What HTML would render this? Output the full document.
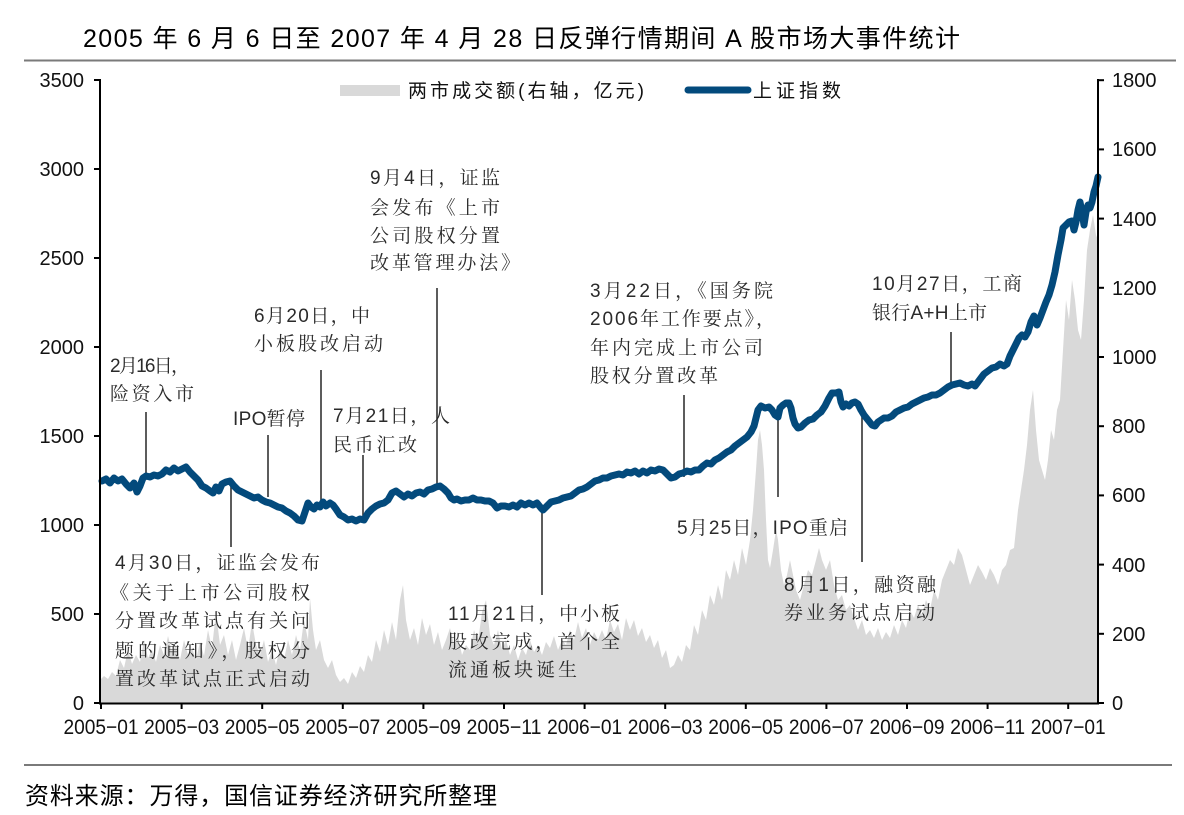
<!DOCTYPE html>
<html>
<head>
<meta charset="utf-8">
<style>
  html,body{margin:0;padding:0;background:#fff;}
  svg{display:block;}
  .ax{font-family:"Liberation Sans","Noto Sans CJK SC",sans-serif;font-size:20px;fill:#111;}
  .xl{font-family:"Liberation Sans","Noto Sans CJK SC",sans-serif;font-size:21px;fill:#111;}
  .an{font-family:"Liberation Sans","Noto Serif CJK SC",serif;font-size:19px;fill:#2a2a2a;}
  .lg{font-family:"Liberation Sans","Noto Sans CJK SC",sans-serif;font-size:19px;fill:#111;}
</style>
</head>
<body>
<svg width="1184" height="815" viewBox="0 0 1184 815" xmlns="http://www.w3.org/2000/svg">
  <rect width="1184" height="815" fill="#fff"/>
  <!-- Title -->
  <text x="83" y="47" font-family="'Liberation Sans','Noto Sans CJK SC',sans-serif" font-size="25" fill="#000" textLength="877" lengthAdjust="spacing">2005 年 6 月 6 日至 2007 年 4 月 28 日反弹行情期间 A 股市场大事件统计</text>
  <line x1="24" y1="60.5" x2="1176" y2="60.5" stroke="#7a7a7a" stroke-width="2"/>

  <!-- Volume area -->
  <polygon fill="#d9d9d9" points="100,703 100,680 104,676 108,679 112,672 116,676 120,660 124,668 128,650 132,664 136,655 140,662 144,640 148,658 152,650 156,662 160,645 164,655 168,636 172,652 176,645 180,660 184,640 188,655 192,648 196,660 200,642 204,656 208,630 212,648 216,612 220,645 224,635 228,655 232,640 236,660 240,645 244,628 248,650 252,622 256,645 260,655 264,640 268,662 272,650 276,665 280,648 284,660 288,640 292,655 296,635 300,650 304,620 308,640 310,598 313,630 316,650 320,640 324,660 328,668 332,660 336,675 340,682 344,678 348,684 352,672 356,678 360,666 364,672 368,655 372,662 376,640 380,652 384,630 388,645 392,622 396,640 400,600 403,585 406,620 410,640 414,628 418,645 422,618 426,635 430,624 434,645 438,632 442,650 446,640 450,628 454,645 458,636 462,655 466,645 470,650 474,630 478,642 482,612 486,600 490,635 494,645 498,630 502,650 506,640 510,655 514,645 518,660 522,648 526,655 530,640 534,652 538,645 542,655 546,642 550,648 554,636 558,650 562,640 566,645 570,630 574,640 578,622 582,638 586,628 590,645 594,632 598,640 602,630 606,640 610,620 614,632 618,624 622,640 626,618 630,630 634,620 638,636 642,628 646,642 650,635 654,648 658,640 662,658 666,650 670,668 674,665 678,655 682,662 686,645 690,650 694,625 698,635 702,610 706,620 710,595 714,605 718,585 722,600 726,570 730,580 734,560 738,575 742,548 746,565 750,540 753,510 756,470 758,440 760,430 762,445 764,470 766,520 768,560 770,568 773,550 776,530 778,540 781,570 784,585 787,575 790,560 793,575 796,590 800,600 804,585 808,570 812,575 816,560 819,548 822,560 826,570 830,560 834,585 838,600 842,595 846,610 850,605 854,618 858,630 862,620 866,635 870,630 874,638 878,628 882,640 886,632 890,638 894,625 898,635 902,620 906,628 910,610 914,618 918,605 922,615 926,600 930,610 934,590 938,600 942,580 946,570 950,560 954,565 958,548 962,555 966,570 970,585 974,575 978,565 982,572 986,580 990,568 994,575 998,585 1002,570 1006,565 1010,550 1014,548 1018,510 1021,490 1024,470 1027,445 1030,410 1033,390 1036,430 1039,460 1042,470 1045,480 1048,460 1051,430 1054,440 1057,410 1060,400 1063,350 1066,300 1069,320 1072,280 1075,300 1078,330 1081,340 1084,300 1087,250 1090,230 1093,215 1096,235 1098,240 1098,703"/>

  <!-- Leader lines -->
  <g stroke="#333" stroke-width="1.6">
    <line x1="146" y1="412" x2="146" y2="477"/>
    <line x1="268" y1="435" x2="268" y2="497"/>
    <line x1="321" y1="370" x2="321" y2="502"/>
    <line x1="363" y1="455" x2="363" y2="520"/>
    <line x1="437" y1="288" x2="437" y2="487"/>
    <line x1="231" y1="482" x2="231" y2="547"/>
    <line x1="542" y1="510" x2="542" y2="595"/>
    <line x1="684" y1="395" x2="684" y2="477"/>
    <line x1="778" y1="413" x2="778" y2="497"/>
    <line x1="862" y1="417" x2="862" y2="562"/>
    <line x1="951" y1="332" x2="951" y2="388"/>
  </g>

  <!-- Index line -->
  <polyline fill="none" stroke="#034a7c" stroke-width="7" stroke-linejoin="round" stroke-linecap="round" points="102,481 106,479 110,483 114,478 118,481 122,479 126,484 130,488 134,483 137,492 140,486 143,478 146,476 150,477 154,475 158,476 162,474 166,470 170,472 174,468 178,471 182,469 186,467 190,472 194,476 198,480 202,486 206,488 210,491 213,493 216,487 219,491 222,484 226,482 230,481 234,486 238,490 242,492 246,494 250,496 254,498 258,497 262,500 266,502 270,503 274,505 278,507 282,508 286,511 290,513 294,516 298,520 302,521 305,512 308,503 311,507 314,509 317,505 320,507 323,502 326,506 330,503 333,505 336,509 340,515 344,517 348,520 352,519 356,521 360,519 364,520 368,513 372,509 376,506 380,504 384,503 388,500 392,493 396,491 400,494 404,497 408,494 412,496 416,493 420,492 424,494 428,490 432,489 436,487 440,486 444,489 448,493 451,498 454,500 457,499 461,501 465,500 469,500 473,498 477,500 481,500 485,501 489,501 493,503 497,508 501,506 505,506 509,507 513,505 517,507 521,503 525,505 529,503 533,505 537,503 541,508 543,510 547,506 551,502 555,501 559,500 563,498 567,497 571,496 575,493 579,490 583,489 587,487 591,484 595,481 599,480 603,478 607,478 611,476 615,475 619,474 623,475 627,472 631,473 635,471 639,474 643,471 647,473 651,470 655,471 659,469 663,470 667,474 671,478 675,477 679,474 683,473 687,471 691,472 695,470 699,470 703,466 707,463 711,464 715,460 719,458 723,455 727,452 731,450 735,446 739,443 743,440 747,437 751,432 754,426 756,418 758,410 761,406 765,408 769,407 772,410 775,415 778,417 780,408 783,405 786,403 789,403 791,408 793,418 795,424 798,428 801,427 805,423 809,420 813,419 817,415 821,412 825,406 829,398 832,393 836,393 839,392 841,402 843,407 846,404 849,406 852,403 855,402 858,404 861,410 864,415 868,420 872,425 875,426 878,422 881,420 884,418 888,418 892,416 896,412 900,410 904,408 908,407 912,404 916,402 920,400 924,398 928,397 932,395 936,395 940,393 944,390 948,387 952,385 956,384 960,383 964,385 968,386 972,384 975,386 978,382 981,378 984,374 988,371 992,368 996,367 1000,364 1004,366 1007,364 1010,356 1013,350 1016,344 1019,338 1022,335 1025,337 1028,332 1031,322 1034,316 1037,325 1040,318 1043,310 1046,302 1049,295 1052,285 1055,272 1058,255 1061,240 1063,228 1066,225 1069,222 1072,221 1074,230 1076,222 1078,210 1080,202 1082,212 1084,225 1086,212 1088,205 1090,208 1092,202 1094,192 1096,186 1098,177"/>

  <!-- Axes -->
  <g stroke="#000" stroke-width="2" fill="none">
    <line x1="100" y1="79" x2="100" y2="704"/>
    <line x1="1098" y1="79" x2="1098" y2="704"/>
    <line x1="99" y1="703.5" x2="1099" y2="703.5"/>
    <line x1="94" y1="703" x2="100" y2="703"/>
    <line x1="94" y1="614" x2="100" y2="614"/>
    <line x1="94" y1="525" x2="100" y2="525"/>
    <line x1="94" y1="436" x2="100" y2="436"/>
    <line x1="94" y1="347" x2="100" y2="347"/>
    <line x1="94" y1="258" x2="100" y2="258"/>
    <line x1="94" y1="169" x2="100" y2="169"/>
    <line x1="94" y1="80" x2="100" y2="80"/>
    <line x1="1098" y1="703" x2="1104" y2="703"/>
    <line x1="1098" y1="633.8" x2="1104" y2="633.8"/>
    <line x1="1098" y1="564.6" x2="1104" y2="564.6"/>
    <line x1="1098" y1="495.4" x2="1104" y2="495.4"/>
    <line x1="1098" y1="426.2" x2="1104" y2="426.2"/>
    <line x1="1098" y1="357" x2="1104" y2="357"/>
    <line x1="1098" y1="287.8" x2="1104" y2="287.8"/>
    <line x1="1098" y1="218.6" x2="1104" y2="218.6"/>
    <line x1="1098" y1="149.4" x2="1104" y2="149.4"/>
    <line x1="1098" y1="80.2" x2="1104" y2="80.2"/>
    <line x1="101" y1="703" x2="101" y2="709"/>
    <line x1="181.6" y1="703" x2="181.6" y2="709"/>
    <line x1="262.2" y1="703" x2="262.2" y2="709"/>
    <line x1="342.8" y1="703" x2="342.8" y2="709"/>
    <line x1="423.4" y1="703" x2="423.4" y2="709"/>
    <line x1="504" y1="703" x2="504" y2="709"/>
    <line x1="584.6" y1="703" x2="584.6" y2="709"/>
    <line x1="665.2" y1="703" x2="665.2" y2="709"/>
    <line x1="745.8" y1="703" x2="745.8" y2="709"/>
    <line x1="826.4" y1="703" x2="826.4" y2="709"/>
    <line x1="907" y1="703" x2="907" y2="709"/>
    <line x1="987.6" y1="703" x2="987.6" y2="709"/>
    <line x1="1068.2" y1="703" x2="1068.2" y2="709"/>
  </g>

  <!-- Left axis labels -->
  <g class="ax" text-anchor="end">
    <text x="84" y="710">0</text>
    <text x="84" y="621">500</text>
    <text x="84" y="532">1000</text>
    <text x="84" y="443">1500</text>
    <text x="84" y="354">2000</text>
    <text x="84" y="265">2500</text>
    <text x="84" y="176">3000</text>
    <text x="84" y="87">3500</text>
  </g>
  <!-- Right axis labels -->
  <g class="ax">
    <text x="1112" y="710">0</text>
    <text x="1112" y="641">200</text>
    <text x="1112" y="572">400</text>
    <text x="1112" y="502">600</text>
    <text x="1112" y="433">800</text>
    <text x="1112" y="364">1000</text>
    <text x="1112" y="295">1200</text>
    <text x="1112" y="226">1400</text>
    <text x="1112" y="156">1600</text>
    <text x="1112" y="87">1800</text>
  </g>
  <!-- X labels -->
  <g class="xl" text-anchor="middle">
    <text x="101" y="734" textLength="75" lengthAdjust="spacingAndGlyphs">2005−01</text>
    <text x="181.6" y="734" textLength="75" lengthAdjust="spacingAndGlyphs">2005−03</text>
    <text x="262.2" y="734" textLength="75" lengthAdjust="spacingAndGlyphs">2005−05</text>
    <text x="342.8" y="734" textLength="75" lengthAdjust="spacingAndGlyphs">2005−07</text>
    <text x="423.4" y="734" textLength="75" lengthAdjust="spacingAndGlyphs">2005−09</text>
    <text x="504" y="734" textLength="75" lengthAdjust="spacingAndGlyphs">2005−11</text>
    <text x="584.6" y="734" textLength="75" lengthAdjust="spacingAndGlyphs">2006−01</text>
    <text x="665.2" y="734" textLength="75" lengthAdjust="spacingAndGlyphs">2006−03</text>
    <text x="745.8" y="734" textLength="75" lengthAdjust="spacingAndGlyphs">2006−05</text>
    <text x="826.4" y="734" textLength="75" lengthAdjust="spacingAndGlyphs">2006−07</text>
    <text x="907" y="734" textLength="75" lengthAdjust="spacingAndGlyphs">2006−09</text>
    <text x="987.6" y="734" textLength="75" lengthAdjust="spacingAndGlyphs">2006−11</text>
    <text x="1068.2" y="734" textLength="75" lengthAdjust="spacingAndGlyphs">2007−01</text>
  </g>

  <!-- Legend -->
  <rect x="340" y="85" width="60" height="11" fill="#d9d9d9"/>
  <text class="lg" x="408" y="97" textLength="236" lengthAdjust="spacing">两市成交额(右轴，亿元)</text>
  <line x1="688" y1="90" x2="748" y2="90" stroke="#034a7c" stroke-width="7" stroke-linecap="round"/>
  <text class="lg" x="753" y="97" textLength="88" lengthAdjust="spacing">上证指数</text>

  <!-- Annotations -->
  <g class="an" lengthAdjust="spacing">
    <text x="370" y="184" textLength="130">9月4日，证监</text>
    <text x="370" y="214" textLength="130">会发布《上市</text>
    <text x="370" y="242" textLength="130">公司股权分置</text>
    <text x="370" y="269" textLength="150">改革管理办法》</text>

    <text x="254" y="322" textLength="116">6月20日，中</text>
    <text x="254" y="350" textLength="129">小板股改启动</text>

    <text x="110" y="372" textLength="80">2月16日，</text>
    <text x="110" y="400" textLength="84">险资入市</text>

    <text x="233" y="425" textLength="72">IPO暂停</text>

    <text x="333" y="422" textLength="117">7月21日，人</text>
    <text x="333" y="451" textLength="84">民币汇改</text>

    <text x="115" y="569" textLength="205">4月30日，证监会发布</text>
    <text x="110" y="599" textLength="200">《关于上市公司股权</text>
    <text x="115" y="627" textLength="195">分置改革试点有关问</text>
    <text x="115" y="657" textLength="195">题的通知》，股权分</text>
    <text x="115" y="685" textLength="195">置改革试点正式启动</text>

    <text x="448" y="620" textLength="172">11月21日，中小板</text>
    <text x="448" y="648" textLength="172">股改完成，首个全</text>
    <text x="448" y="676" textLength="129">流通板块诞生</text>

    <text x="590" y="297" textLength="183">3月22日，《国务院</text>
    <text x="590" y="325" textLength="185">2006年工作要点》，</text>
    <text x="590" y="354" textLength="173">年内完成上市公司</text>
    <text x="590" y="382" textLength="128">股权分置改革</text>

    <text x="677" y="534" textLength="171">5月25日，IPO重启</text>

    <text x="784" y="591" textLength="152">8月1日，融资融</text>
    <text x="784" y="619" textLength="151">券业务试点启动</text>

    <text x="872" y="290" textLength="150">10月27日，工商</text>
    <text x="872" y="319" textLength="115">银行A+H上市</text>
  </g>

  <!-- Footer -->
  <line x1="24" y1="765" x2="1172" y2="765" stroke="#7a7a7a" stroke-width="2"/>
  <text x="25" y="804" font-family="'Liberation Sans','Noto Sans CJK SC',sans-serif" font-size="24" fill="#000" textLength="472" lengthAdjust="spacing">资料来源：万得，国信证券经济研究所整理</text>
</svg>
</body>
</html>
